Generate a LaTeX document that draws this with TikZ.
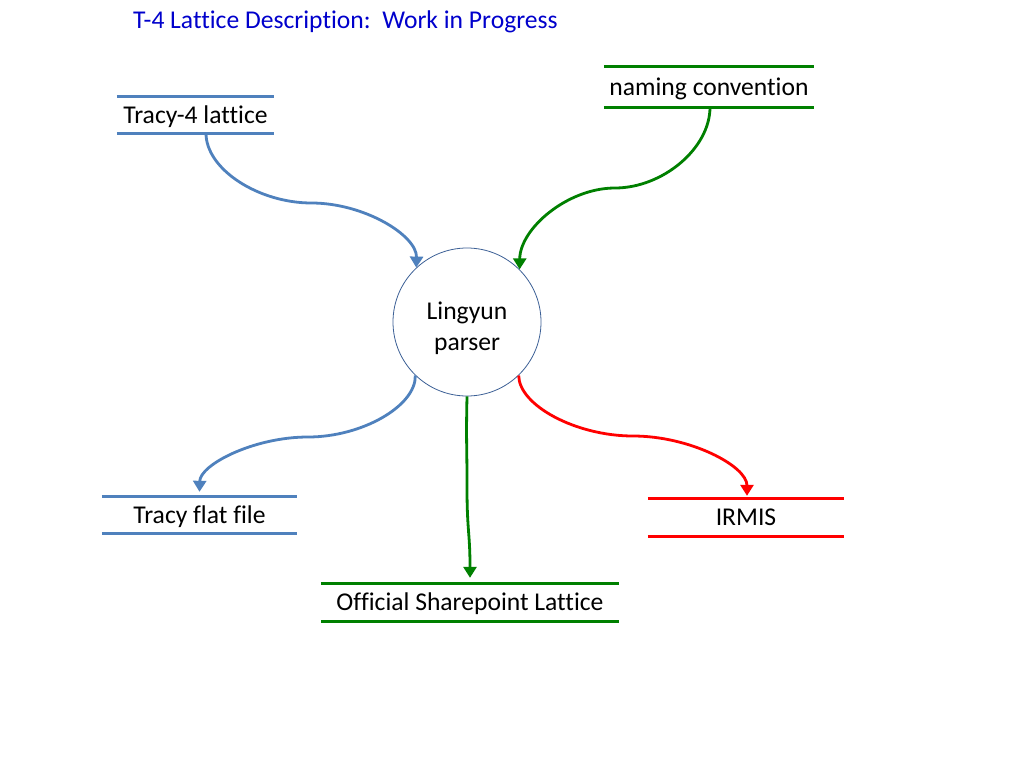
\documentclass[tikz,border=0pt]{standalone}
\usepackage{fontspec}
\setmainfont{Carlito}[Ligatures={NoCommon}]
\usetikzlibrary{arrows.meta}
\definecolor{lblue}{RGB}{79,129,189}
\definecolor{cblue}{RGB}{60,96,150}
\definecolor{lgreen}{RGB}{0,128,0}
\definecolor{lred}{RGB}{255,0,0}
\definecolor{tblue}{RGB}{0,0,204}
\tikzset{
  lbl/.style={inner sep=0pt, font=\fontsize{25.6}{30.7}\selectfont, text=black, text height=20pt, text depth=4pt},
  rule/.style={line width=3pt},
  conn/.style={line width=2.8pt, -{Triangle[length=11pt,width=13pt]}},
}
\begin{document}
\begin{tikzpicture}[x=1pt,y=-1pt]
\useasboundingbox[fill=white] (0,0) rectangle (1024,768);

\node[anchor=base west, inner sep=0pt, text=tblue, font=\fontsize{25.6}{30.7}\selectfont] (title) at (133,29) {T-4 Lattice Description:\ \ Work in Progress};

\node[circle, draw=cblue, line width=0.8pt, minimum size=148pt, inner sep=0pt] (p) at (467,322) {};
\node[inner sep=0pt, font=\fontsize{25.6}{30.7}\selectfont, align=center] (ptext) at ([yshift=-6pt]p.center) {Lingyun\\parser};

\node[lbl, minimum width=157pt, minimum height=36pt] (t4) at (195.5,115) {Tracy-4 lattice};
\node[lbl, minimum width=210pt, minimum height=40pt] (nc) at (709,87) {naming convention};
\node[lbl, minimum width=195pt, minimum height=36pt] (tf) at (199.5,515) {Tracy flat file};
\node[lbl, minimum width=196pt, minimum height=37pt] (ir) at (746,517.5) {IRMIS};
\node[lbl, minimum width=298pt, minimum height=37pt] (sp) at (470,602.5) {Official Sharepoint Lattice};

\draw[rule, lblue] (t4.north west) -- (t4.north east) (t4.south west) -- (t4.south east);
\draw[rule, lgreen] (nc.north west) -- (nc.north east) (nc.south west) -- (nc.south east);
\draw[rule, lblue] (tf.north west) -- (tf.north east) (tf.south west) -- (tf.south east);
\draw[rule, lred] (ir.north west) -- (ir.north east) (ir.south west) -- (ir.south east);
\draw[rule, lgreen] (sp.north west) -- (sp.north east) (sp.south west) -- (sp.south east);

\draw[conn, lblue] ([xshift=10.5pt]t4.south) .. controls (206,169.5) and (258.75,203) .. (311.5,203)
  .. controls (364.25,203) and (417,235.5) .. (p.133);
\draw[conn, lgreen] ([xshift=1pt]nc.south) .. controls (710,148.5) and (662.5,188) .. (615,188)
  .. controls (567.5,188) and (520,228.5) .. (p.45);
\draw[conn, lblue] (p.226) .. controls (416,406) and (362,437) .. (308,437)
  .. controls (254,437) and (200,464.5) .. ([yshift=5pt]tf.north);
\draw[conn, lred] (p.314.5) .. controls (519,405.5) and (576,436) .. (633,436)
  .. controls (690,436) and (747,466) .. ([xshift=1pt,yshift=3pt]ir.north);
\draw[conn, lgreen] (p.270.8) .. controls (466,442) and (467,442) .. (467,487)
  .. controls (467,532) and (470,532) .. ([yshift=6pt]sp.north);
\end{tikzpicture}
\end{document}
